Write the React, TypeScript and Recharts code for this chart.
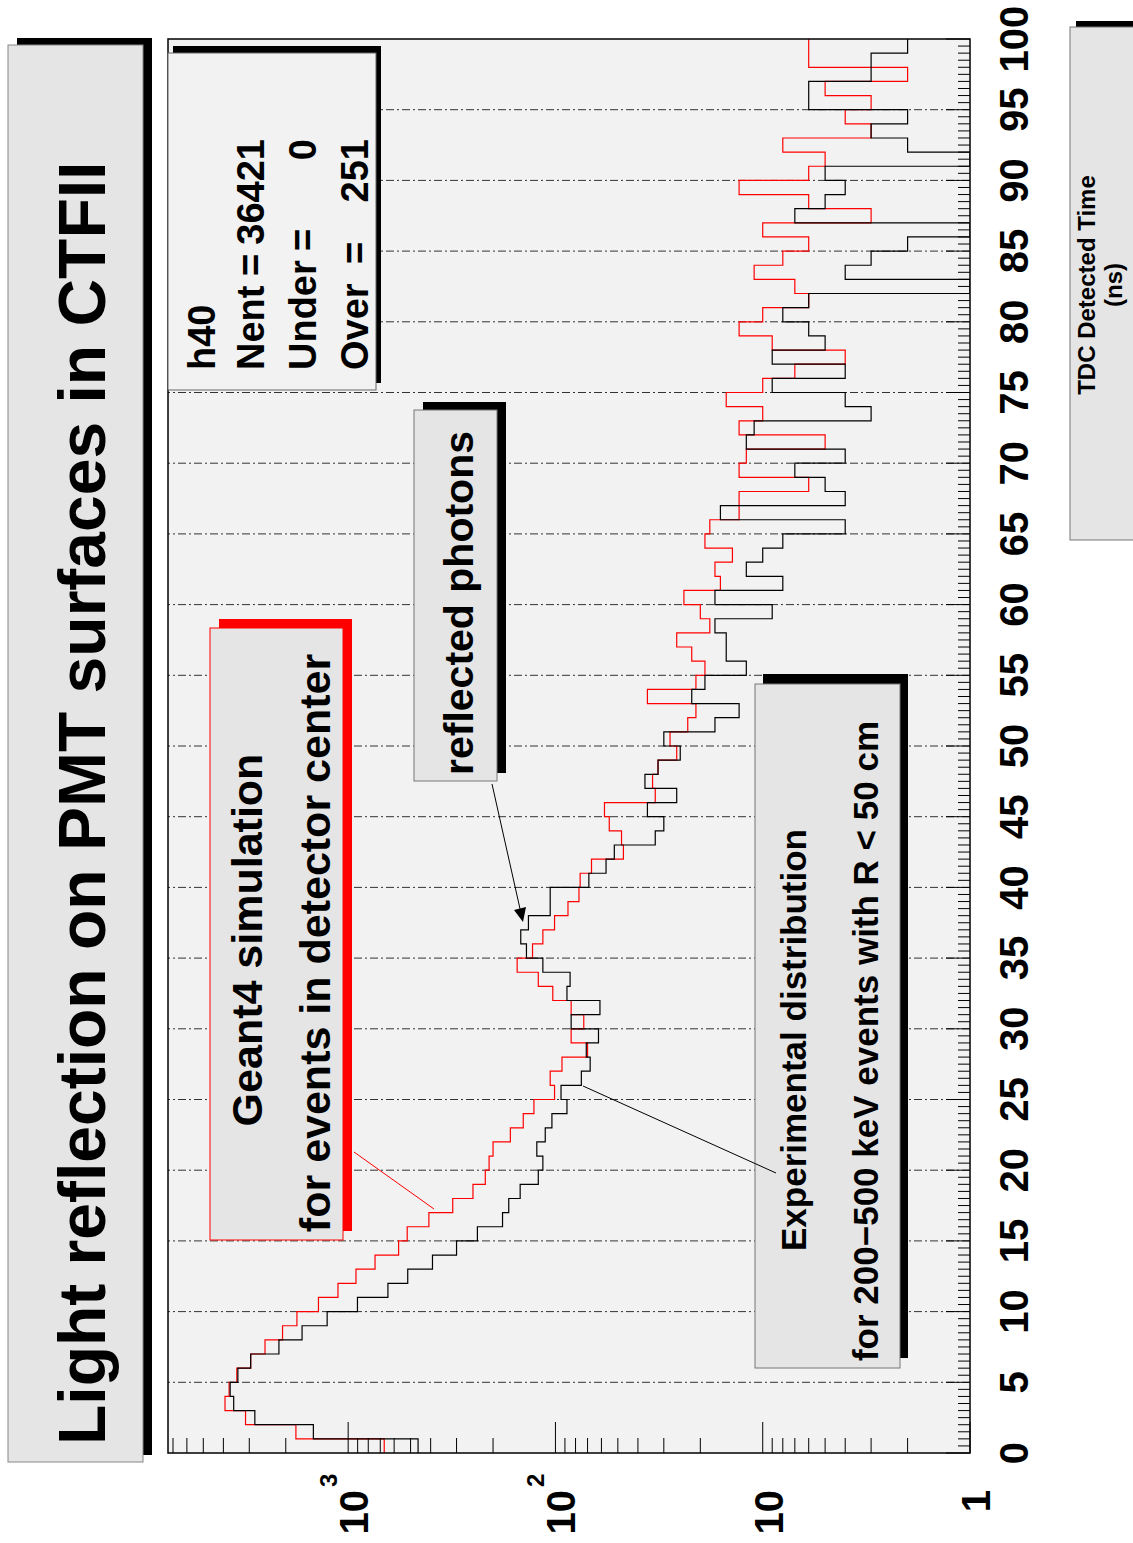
import React from "react";
import { LineChart, Line, XAxis, YAxis, ReferenceLine } from "recharts";

// TDC time bins (ns), lower edges
const binStart = [
  0, 1, 2, 3, 4, 5, 6, 7, 8, 9, 10, 11, 12, 13, 14, 15, 16, 17, 18, 19,
  20, 21, 22, 23, 24, 25, 26, 27, 28, 29, 30, 31, 32, 33, 34, 35, 36, 37, 38, 39,
  40, 41, 42, 43, 44, 45, 46, 47, 48, 49, 50, 51, 52, 53, 54, 55, 56, 57, 58, 59,
  60, 61, 62, 63, 64, 65, 66, 67, 68, 69, 70, 71, 72, 73, 74, 75, 76, 77, 78, 79,
  80, 81, 82, 83, 84, 85, 86, 87, 88, 89, 90, 91, 92, 93, 94, 95, 96, 97, 98, 99,
];
const lastEdge = 100;

// black: experimental distribution
const experimental = [
  460, 1472, 2820, 3567, 3710, 3405, 2953, 2158, 1669, 1263,
  902, 643, 516, 392, 300, 238, 180, 168, 148, 121,
  115, 123, 112, 104, 88, 94, 75, 68, 71, 62,
  84, 61, 88, 85, 115, 138, 147, 135, 106, 106,
  69, 57, 52, 33, 30, 36, 26, 37, 32, 25,
  30, 17, 13, 22, 19, 12, 15, 15, 17, 9,
  17, 8, 12, 10, 8, 4, 16, 4, 5, 7,
  4, 12, 11, 3, 4, 9, 4, 9, 5, 6,
  8, 6, 1, 4, 3, 2, 1, 7, 5, 4,
  5, 1, 2, 3, 2, 6, 6, 3, 3, 2,
];

// red: Geant4 simulation
const geant4 = [
  670, 1787, 3127, 3928, 3753, 3445, 2953, 2519, 2073, 1767,
  1391, 1120, 917, 742, 571, 519, 408, 313, 250, 218,
  209, 200, 165, 143, 127, 101, 106, 93, 70, 84,
  73, 84, 103, 121, 153, 129, 115, 101, 87, 77,
  76, 67, 47, 48, 55, 58, 33, 34, 32, 26,
  28, 23, 21, 36, 21, 19, 22, 26, 18, 20,
  24, 16, 17, 14, 19, 18, 13, 13, 6, 13,
  12, 5, 13, 10, 15, 10, 7, 4, 9, 13,
  10, 6, 7, 11, 8, 6, 10, 3, 6, 13,
  6, 5, 8, 3, 4, 3, 5, 2, 6, 6,
];

const timeLabels = [0, 5, 10, 15, 20, 25, 30, 35, 40, 45, 50, 55, 60, 65, 70, 75, 80, 85, 90, 95, 100];
const logDecades = [1, 10, 100, 1000];
const logMinor = [
  2, 3, 4, 5, 6, 7, 8, 9, 20, 30, 40, 50, 60, 70, 80, 90,
  200, 300, 400, 500, 600, 700, 800, 900, 2000, 3000, 4000, 5000, 6000, 7000,
];
const statsRows = [
  { label: "Nent", value: "36421", eq: 1278 },
  { label: "Under", value: "0", eq: 1303 },
  { label: "Over", value: "251", eq: 1290 },
];

const chartData = binStart
  .map((t, i) => ({ t, exp: experimental[i], sim: geant4[i] }))
  .concat([{ t: lastEdge, exp: experimental[99], sim: geant4[99] }]);

const timeTicks = binStart.flatMap((t) => [t, t + 0.5]).concat([lastEdge]);
const countTicks = [...logDecades, ...logMinor].sort((a, b) => a - b);

const FONT = "'Liberation Sans', Arial, Helvetica, sans-serif";
const W = 1543;
const H = 1133;

function TimeTick(props: any) {
  const { x, y, payload } = props;
  const v = payload.value;
  const major = v % 5 === 0;
  return (
    <g>
      <line x1={x} y1={y} x2={x} y2={y - (major ? 24 : 12)} stroke="#000" strokeWidth={1} />
      {major && (
        <text x={x} y={y + 58} textAnchor="middle" fontSize={40} fontWeight="bold" fontFamily={FONT} fill="#000">
          {v}
        </text>
      )}
    </g>
  );
}

function CountTick(props: any) {
  const { x, y, payload } = props;
  const v = payload.value;
  const d = logDecades.indexOf(v);
  return (
    <g>
      <line x1={x} y1={y} x2={x + (d >= 0 ? 31 : 15)} y2={y} stroke="#000" strokeWidth={1} />
      {d >= 0 && (
        <text x={x - 37} y={y + 20} textAnchor="end" fontSize={40} fontWeight="bold" fontFamily={FONT} fill="#000">
          {d === 0 ? "1" : "10"}
        </text>
      )}
      {d >= 2 && (
        <text x={x - 34} y={y - 11} fontSize={24} fontWeight="bold" fontFamily={FONT} fill="#000">
          {d}
        </text>
      )}
    </g>
  );
}

function Box({ x, y, w, h, fill, stroke, shadow, dx, dy }: any) {
  return (
    <g>
      <rect x={x + dx} y={y + dy} width={w} height={h} fill={shadow} />
      <rect x={x} y={y} width={w} height={h} fill={fill} stroke={stroke} strokeWidth={1} />
    </g>
  );
}

export default function App() {
  const txt = { fontFamily: FONT, fontWeight: "bold" as const, fill: "#000" };
  return (
    <div style={{ position: "absolute", left: 0, top: 0, width: H, height: W, overflow: "hidden", background: "#fff" }}>
      <div
        style={{
          position: "absolute",
          left: 0,
          top: 0,
          width: W,
          height: H,
          transformOrigin: "0 0",
          transform: `translateY(${W}px) rotate(-90deg)`,
        }}
      >
        <svg width={W} height={H} style={{ position: "absolute", left: 0, top: 0 }}>
          <rect x={90} y={168} width={1414} height={802} fill="#f2f2f2" />
        </svg>
        <div style={{ position: "absolute", left: 0, top: 0 }}>
          <LineChart width={W} height={H} data={chartData} margin={{ top: 168, right: 39, bottom: 0, left: 0 }}>
            <XAxis
              dataKey="t"
              type="number"
              domain={[0, 100]}
              allowDataOverflow
              ticks={timeTicks}
              interval={0}
              height={163}
              axisLine={false}
              tickLine={false}
              tickSize={0}
              tickMargin={0}
              tick={(p: any) => <TimeTick {...p} />}
            />
            <YAxis
              type="number"
              scale="log"
              domain={[1, 7400]}
              allowDataOverflow
              ticks={countTicks}
              interval={0}
              width={90}
              axisLine={false}
              tickLine={false}
              tickSize={0}
              tickMargin={0}
              tick={(p: any) => <CountTick {...p} />}
            />
            {timeLabels
              .filter((t) => t > 0 && t < lastEdge)
              .map((t) => (
                <ReferenceLine key={t} x={t} stroke="#333" strokeWidth={1} strokeDasharray="8 3 2 3" />
              ))}
            <Line type="stepAfter" dataKey="sim" stroke="#ff0000" strokeWidth={1.2} dot={false} isAnimationActive={false} />
            <Line type="stepAfter" dataKey="exp" stroke="#000" strokeWidth={1.2} dot={false} isAnimationActive={false} />
          </LineChart>
        </div>
        <svg width={W} height={H} style={{ position: "absolute", left: 0, top: 0, pointerEvents: "none" }}>
          <rect x={90} y={168} width={1414} height={802} fill="none" stroke="#000" strokeWidth={1.5} />

          {/* title */}
          <Box x={81} y={8} w={1417} h={135} dx={7} dy={9} fill="#e5e5e5" stroke="#888" shadow="#000" />
          <text x={98} y={105} fontSize={66} {...txt}>
            Light reflection on PMT surfaces in CTFII
          </text>

          {/* stats */}
          <Box x={1153} y={168} w={337} h={208} dx={7} dy={5} fill="#f2f2f2" stroke="#666" shadow="#000" />
          <text x={1173} y={215} fontSize={38} {...txt}>h40</text>
          {statsRows.map((r, i) => (
            <g key={r.label}>
              <text x={1173} y={264 + i * 52} fontSize={38} {...txt}>{r.label}</text>
              <text x={r.eq} y={264 + i * 52} fontSize={38} textAnchor="middle" {...txt}>=</text>
              <text x={1404} y={264 + i * 52} fontSize={38} textAnchor="end" {...txt}>{r.value}</text>
            </g>
          ))}

          {/* Geant4 box */}
          <Box x={303} y={210} w={612} h={133} dx={9} dy={9} fill="#e5e5e5" stroke="#ff0000" shadow="#ff0000" />
          <text x={603} y={262} fontSize={43} textAnchor="middle" {...txt}>Geant4 simulation</text>
          <text x={600} y={330} fontSize={43} textAnchor="middle" {...txt}>for events in detector center</text>
          <line x1={391} y1={354} x2={334} y2={434} stroke="#ff0000" strokeWidth={1} />

          {/* reflected photons */}
          <Box x={762} y={414} w={371} h={83} dx={8} dy={9} fill="#e5e5e5" stroke="#777" shadow="#000" />
          <text x={940} y={473} fontSize={41} textAnchor="middle" {...txt}>reflected photons</text>
          <line x1={759} y1={492} x2={632} y2={520.5} stroke="#000" strokeWidth={1} />
          <polygon points="621,523 633,514 636,526" fill="#000" />

          {/* experimental */}
          <Box x={175} y={755} w={684} h={145} dx={10} dy={8} fill="#e5e5e5" stroke="#777" shadow="#000" />
          <text x={503} y={806} fontSize={35} textAnchor="middle" {...txt}>Experimental distribution</text>
          <text x={502} y={878} fontSize={35} textAnchor="middle" {...txt}>for 200−500 keV events with R &lt; 50 cm</text>
          <line x1={457} y1={583} x2={370} y2={776} stroke="#000" strokeWidth={1} />

          {/* x-axis title */}
          <Box x={1003} y={1070} w={513} h={70} dx={6} dy={6} fill="#e5e5e5" stroke="#777" shadow="#000" />
          <text x={1258} y={1095} fontSize={24} textAnchor="middle" {...txt}>TDC Detected Time</text>
          <text x={1258} y={1122} fontSize={24} textAnchor="middle" {...txt}>(ns)</text>
        </svg>
      </div>
    </div>
  );
}
